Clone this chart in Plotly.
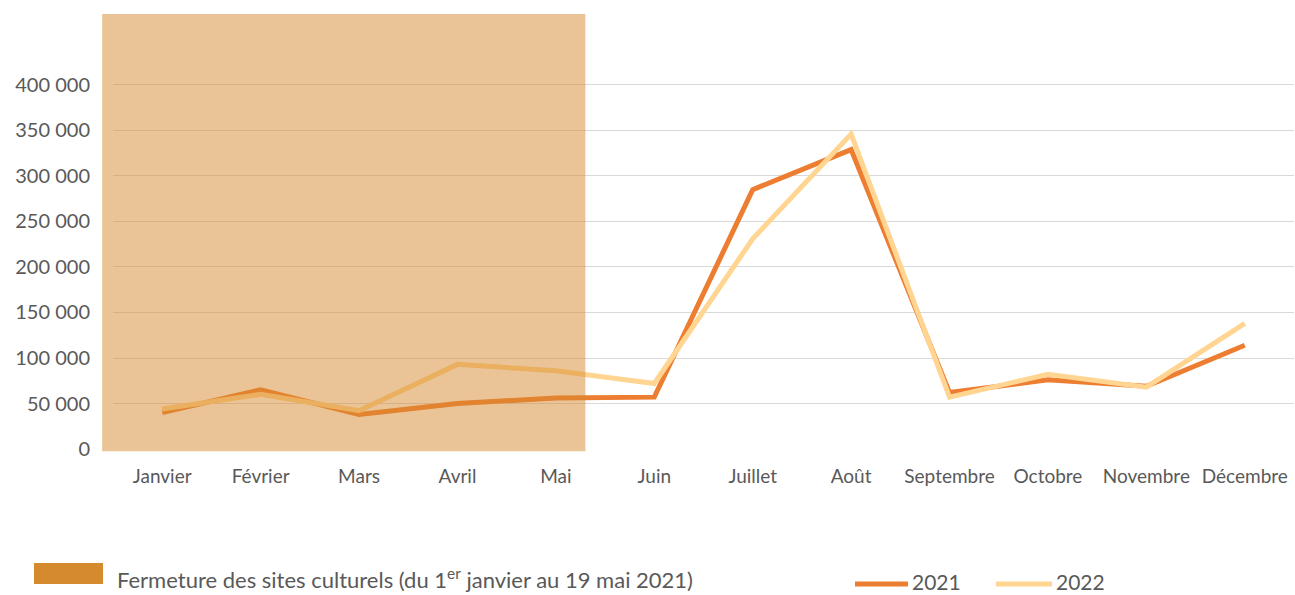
import plotly.graph_objects as go

months = ["Janvier", "Février", "Mars", "Avril", "Mai", "Juin", "Juillet",
          "Août", "Septembre", "Octobre", "Novembre", "Décembre"]
visits_2021 = [40000, 65000, 38000, 50000, 56000, 57000, 285000, 329000,
               62000, 76000, 69000, 114000]
visits_2022 = [44000, 60000, 42000, 93000, 86000, 72000, 231000, 346000,
               57000, 82000, 68000, 138000]
tick_vals = [0, 50000, 100000, 150000, 200000, 250000, 300000, 350000, 400000]
tick_text = ["0", "50 000", "100 000", "150 000", "200 000", "250 000",
             "300 000", "350 000", "400 000"]

color_2021 = "#ED7D31"
color_2022 = "#FFD591"
closure_color = "rgb(213,138,46)"
text_color = "#595959"
font_family = "Lato"

L, T, PW, PH = 113, 14, 1181, 435  # plot area geometry in px
n = len(months)


def px_x(p):
    return (p - L) / PW


def px_y(p):
    return -(p - (T + PH)) / PH


def cat_x(c):  # category coordinate -> paper fraction
    return (c + 0.5) / n


fig = go.Figure()
fig.add_trace(go.Scatter(x=months, y=visits_2021, mode="lines", name="2021",
                         line=dict(color=color_2021, width=5)))
fig.add_trace(go.Scatter(x=months, y=visits_2022, mode="lines", name="2022",
                         line=dict(color=color_2022, width=5)))

# closure period rectangle (1 Jan -> 19 May 2021)
fig.add_shape(type="rect", xref="paper", yref="paper", x0=cat_x(-0.61),
              x1=cat_x(4.30), y0=-0.005, y1=1,
              fillcolor="rgba(213,138,46,0.5)",
              line=dict(width=0), layer="above")

# legend: closure square + text
fig.add_shape(type="rect", xref="paper", yref="paper",
              x0=px_x(34), x1=px_x(103), y0=px_y(563), y1=px_y(584),
              fillcolor=closure_color, line=dict(width=0))
fig.add_annotation(xref="paper", yref="paper", x=px_x(115),
                   y=px_y(578), xanchor="left", yanchor="middle",
                   showarrow=False,
                   text="Fermeture des sites culturels (du 1<sup>er</sup> janvier au 19 mai 2021)",
                   font=dict(family=font_family, size=22, color=text_color))

# legend: series
for name, col, x0, x1, tx in [("2021", color_2021, 855, 908, 910),
                              ("2022", color_2022, 996, 1052, 1054)]:
    fig.add_shape(type="line", xref="paper", yref="paper",
                  x0=px_x(x0), x1=px_x(x1), y0=px_y(584), y1=px_y(584),
                  line=dict(color=col, width=5))
    fig.add_annotation(xref="paper", yref="paper", x=px_x(tx),
                       y=px_y(581), xanchor="left", yanchor="middle",
                       showarrow=False, text=name,
                       font=dict(family=font_family, size=21, color=text_color))

fig.update_layout(
    width=1295, height=595,
    margin=dict(l=L, r=1295 - L - PW, t=T, b=595 - T - PH, autoexpand=False),
    paper_bgcolor="white", plot_bgcolor="white",
    showlegend=False,
    font=dict(family=font_family, size=19, color=text_color),
)
fig.update_xaxes(type="category", range=[-0.5, n - 0.5], showgrid=False,
                 zeroline=False, showline=False, ticks="", automargin=False,
                 ticklabeloverflow="allow",
                 tickfont=dict(size=19, color=text_color),
                 ticklabelstandoff=14)
fig.update_yaxes(range=[0, 478000], tickvals=tick_vals, ticktext=tick_text,
                 showgrid=True, gridcolor="#D9D9D9", gridwidth=1.2,
                 zeroline=False, showline=False, ticks="", automargin=False,
                 tickfont=dict(size=20, color=text_color), ticklabelstandoff=22)

fig.write_html("out.html", config={"displayModeBar": False},
               post_script="document.body.style.margin='0';document.body.style.overflow='hidden';")
